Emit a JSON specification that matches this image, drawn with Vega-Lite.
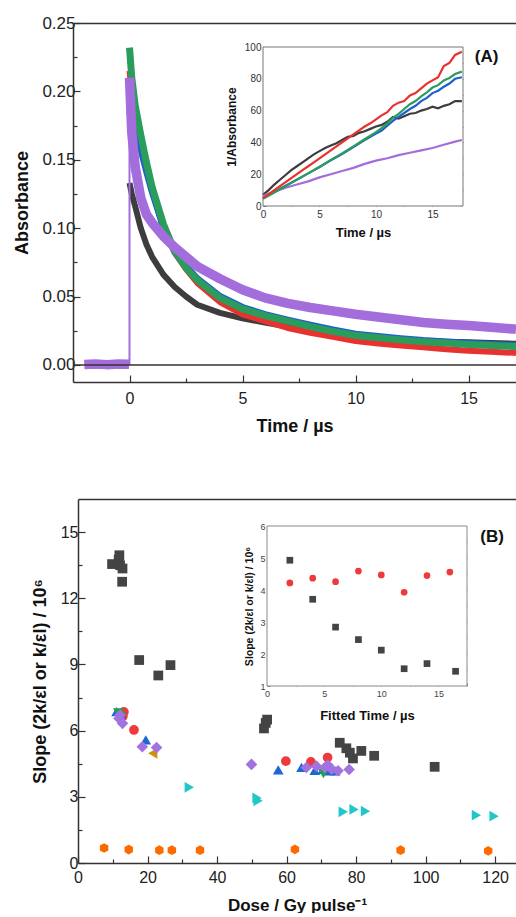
{
  "$schema": "https://vega.github.io/schema/vega-lite/v6.json",
  "padding": {"left": 13, "top": 14, "right": 0, "bottom": 0},
  "spacing": 64,
  "config": {
    "font": "Liberation Sans",
    "view": {"stroke": null},
    "axis": {"grid": false, "domainColor": "#333", "tickColor": "#333", "labelColor": "#222", "titleColor": "#111", "labelFont": "Liberation Sans", "titleFont": "Liberation Sans", "labelFlush": false, "labelOverlap": false, "titleFontWeight": "bold"}
  },
  "datasets": {
    "mainA": [
      {"series": "trace5", "phase": "pre", "t": -2.0, "a": 0.0003},
      {"series": "trace5", "phase": "pre", "t": -1.5, "a": 0.0007},
      {"series": "trace5", "phase": "pre", "t": -1.0, "a": 0.0002},
      {"series": "trace5", "phase": "pre", "t": -0.5, "a": 0.0006},
      {"series": "trace5", "phase": "pre", "t": -0.02, "a": 0.0004},
      {"series": "trace1", "phase": "post", "t": 0, "a": 0.133}, {"series": "trace1", "phase": "post", "t": 0.1, "a": 0.125}, {"series": "trace1", "phase": "post", "t": 0.25, "a": 0.116}, {"series": "trace1", "phase": "post", "t": 0.5, "a": 0.1}, {"series": "trace1", "phase": "post", "t": 0.75, "a": 0.088}, {"series": "trace1", "phase": "post", "t": 1, "a": 0.079}, {"series": "trace1", "phase": "post", "t": 1.5, "a": 0.066}, {"series": "trace1", "phase": "post", "t": 2, "a": 0.057}, {"series": "trace1", "phase": "post", "t": 2.5, "a": 0.05}, {"series": "trace1", "phase": "post", "t": 3, "a": 0.044}, {"series": "trace1", "phase": "post", "t": 4, "a": 0.038}, {"series": "trace1", "phase": "post", "t": 5, "a": 0.034}, {"series": "trace1", "phase": "post", "t": 6, "a": 0.031}, {"series": "trace1", "phase": "post", "t": 7, "a": 0.028}, {"series": "trace1", "phase": "post", "t": 8, "a": 0.025}, {"series": "trace1", "phase": "post", "t": 9, "a": 0.022}, {"series": "trace1", "phase": "post", "t": 10, "a": 0.0198}, {"series": "trace1", "phase": "post", "t": 11, "a": 0.0188}, {"series": "trace1", "phase": "post", "t": 12, "a": 0.018}, {"series": "trace1", "phase": "post", "t": 13, "a": 0.0175}, {"series": "trace1", "phase": "post", "t": 14, "a": 0.017}, {"series": "trace1", "phase": "post", "t": 15, "a": 0.0165}, {"series": "trace1", "phase": "post", "t": 16, "a": 0.016}, {"series": "trace1", "phase": "post", "t": 17, "a": 0.0155}, {"series": "trace1", "phase": "post", "t": 17.1, "a": 0.0155},
      {"series": "trace2", "phase": "post", "t": 0, "a": 0.215}, {"series": "trace2", "phase": "post", "t": 0.1, "a": 0.2}, {"series": "trace2", "phase": "post", "t": 0.25, "a": 0.185}, {"series": "trace2", "phase": "post", "t": 0.5, "a": 0.165}, {"series": "trace2", "phase": "post", "t": 0.75, "a": 0.145}, {"series": "trace2", "phase": "post", "t": 1, "a": 0.128}, {"series": "trace2", "phase": "post", "t": 1.5, "a": 0.1}, {"series": "trace2", "phase": "post", "t": 2, "a": 0.082}, {"series": "trace2", "phase": "post", "t": 2.5, "a": 0.07}, {"series": "trace2", "phase": "post", "t": 3, "a": 0.06}, {"series": "trace2", "phase": "post", "t": 4, "a": 0.046}, {"series": "trace2", "phase": "post", "t": 5, "a": 0.037}, {"series": "trace2", "phase": "post", "t": 6, "a": 0.032}, {"series": "trace2", "phase": "post", "t": 7, "a": 0.027}, {"series": "trace2", "phase": "post", "t": 8, "a": 0.0235}, {"series": "trace2", "phase": "post", "t": 9, "a": 0.0205}, {"series": "trace2", "phase": "post", "t": 10, "a": 0.0175}, {"series": "trace2", "phase": "post", "t": 11, "a": 0.0157}, {"series": "trace2", "phase": "post", "t": 12, "a": 0.0142}, {"series": "trace2", "phase": "post", "t": 13, "a": 0.0129}, {"series": "trace2", "phase": "post", "t": 14, "a": 0.0115}, {"series": "trace2", "phase": "post", "t": 15, "a": 0.0104}, {"series": "trace2", "phase": "post", "t": 16, "a": 0.0096}, {"series": "trace2", "phase": "post", "t": 17, "a": 0.0088}, {"series": "trace2", "phase": "post", "t": 17.1, "a": 0.0087},
      {"series": "trace3", "phase": "post", "t": 0, "a": 0.186}, {"series": "trace3", "phase": "post", "t": 0.1, "a": 0.18}, {"series": "trace3", "phase": "post", "t": 0.25, "a": 0.172}, {"series": "trace3", "phase": "post", "t": 0.5, "a": 0.158}, {"series": "trace3", "phase": "post", "t": 0.75, "a": 0.142}, {"series": "trace3", "phase": "post", "t": 1, "a": 0.127}, {"series": "trace3", "phase": "post", "t": 1.5, "a": 0.101}, {"series": "trace3", "phase": "post", "t": 2, "a": 0.083}, {"series": "trace3", "phase": "post", "t": 2.5, "a": 0.072}, {"series": "trace3", "phase": "post", "t": 3, "a": 0.063}, {"series": "trace3", "phase": "post", "t": 4, "a": 0.05}, {"series": "trace3", "phase": "post", "t": 5, "a": 0.042}, {"series": "trace3", "phase": "post", "t": 6, "a": 0.0368}, {"series": "trace3", "phase": "post", "t": 7, "a": 0.0328}, {"series": "trace3", "phase": "post", "t": 8, "a": 0.029}, {"series": "trace3", "phase": "post", "t": 9, "a": 0.0255}, {"series": "trace3", "phase": "post", "t": 10, "a": 0.0225}, {"series": "trace3", "phase": "post", "t": 11, "a": 0.0207}, {"series": "trace3", "phase": "post", "t": 12, "a": 0.0192}, {"series": "trace3", "phase": "post", "t": 13, "a": 0.0178}, {"series": "trace3", "phase": "post", "t": 14, "a": 0.0168}, {"series": "trace3", "phase": "post", "t": 15, "a": 0.0158}, {"series": "trace3", "phase": "post", "t": 16, "a": 0.015}, {"series": "trace3", "phase": "post", "t": 17, "a": 0.0143}, {"series": "trace3", "phase": "post", "t": 17.1, "a": 0.0142},
      {"series": "trace4", "phase": "post", "t": 0, "a": 0.232}, {"series": "trace4", "phase": "post", "t": 0.1, "a": 0.21}, {"series": "trace4", "phase": "post", "t": 0.25, "a": 0.19}, {"series": "trace4", "phase": "post", "t": 0.5, "a": 0.168}, {"series": "trace4", "phase": "post", "t": 0.75, "a": 0.148}, {"series": "trace4", "phase": "post", "t": 1, "a": 0.13}, {"series": "trace4", "phase": "post", "t": 1.5, "a": 0.103}, {"series": "trace4", "phase": "post", "t": 2, "a": 0.083}, {"series": "trace4", "phase": "post", "t": 2.5, "a": 0.071}, {"series": "trace4", "phase": "post", "t": 3, "a": 0.062}, {"series": "trace4", "phase": "post", "t": 4, "a": 0.049}, {"series": "trace4", "phase": "post", "t": 5, "a": 0.041}, {"series": "trace4", "phase": "post", "t": 6, "a": 0.036}, {"series": "trace4", "phase": "post", "t": 7, "a": 0.032}, {"series": "trace4", "phase": "post", "t": 8, "a": 0.028}, {"series": "trace4", "phase": "post", "t": 9, "a": 0.0245}, {"series": "trace4", "phase": "post", "t": 10, "a": 0.0215}, {"series": "trace4", "phase": "post", "t": 11, "a": 0.0198}, {"series": "trace4", "phase": "post", "t": 12, "a": 0.0183}, {"series": "trace4", "phase": "post", "t": 13, "a": 0.017}, {"series": "trace4", "phase": "post", "t": 14, "a": 0.016}, {"series": "trace4", "phase": "post", "t": 15, "a": 0.015}, {"series": "trace4", "phase": "post", "t": 16, "a": 0.0142}, {"series": "trace4", "phase": "post", "t": 17, "a": 0.0135}, {"series": "trace4", "phase": "post", "t": 17.1, "a": 0.0134},
      {"series": "trace5", "phase": "post", "t": 0, "a": 0.21}, {"series": "trace5", "phase": "post", "t": 0.1, "a": 0.17}, {"series": "trace5", "phase": "post", "t": 0.25, "a": 0.145}, {"series": "trace5", "phase": "post", "t": 0.5, "a": 0.122}, {"series": "trace5", "phase": "post", "t": 0.75, "a": 0.11}, {"series": "trace5", "phase": "post", "t": 1, "a": 0.104}, {"series": "trace5", "phase": "post", "t": 1.5, "a": 0.094}, {"series": "trace5", "phase": "post", "t": 2, "a": 0.086}, {"series": "trace5", "phase": "post", "t": 2.5, "a": 0.079}, {"series": "trace5", "phase": "post", "t": 3, "a": 0.072}, {"series": "trace5", "phase": "post", "t": 4, "a": 0.063}, {"series": "trace5", "phase": "post", "t": 5, "a": 0.055}, {"series": "trace5", "phase": "post", "t": 6, "a": 0.049}, {"series": "trace5", "phase": "post", "t": 7, "a": 0.045}, {"series": "trace5", "phase": "post", "t": 8, "a": 0.042}, {"series": "trace5", "phase": "post", "t": 9, "a": 0.0395}, {"series": "trace5", "phase": "post", "t": 10, "a": 0.037}, {"series": "trace5", "phase": "post", "t": 11, "a": 0.035}, {"series": "trace5", "phase": "post", "t": 12, "a": 0.033}, {"series": "trace5", "phase": "post", "t": 13, "a": 0.031}, {"series": "trace5", "phase": "post", "t": 14, "a": 0.0298}, {"series": "trace5", "phase": "post", "t": 15, "a": 0.0288}, {"series": "trace5", "phase": "post", "t": 16, "a": 0.0275}, {"series": "trace5", "phase": "post", "t": 17, "a": 0.0262}, {"series": "trace5", "phase": "post", "t": 17.1, "a": 0.026}
    ],
    "insetA": [
      {"series": "trace1", "t": 0, "inv": 7}, {"series": "trace1", "t": 0.5, "inv": 10}, {"series": "trace1", "t": 1, "inv": 13.5}, {"series": "trace1", "t": 1.5, "inv": 16.5}, {"series": "trace1", "t": 2, "inv": 19.5}, {"series": "trace1", "t": 2.5, "inv": 22.5}, {"series": "trace1", "t": 3, "inv": 25}, {"series": "trace1", "t": 3.5, "inv": 27.5}, {"series": "trace1", "t": 4, "inv": 30}, {"series": "trace1", "t": 4.5, "inv": 32.5}, {"series": "trace1", "t": 5, "inv": 34.5}, {"series": "trace1", "t": 5.5, "inv": 36.5}, {"series": "trace1", "t": 6, "inv": 38}, {"series": "trace1", "t": 6.5, "inv": 39.5}, {"series": "trace1", "t": 7, "inv": 41.5}, {"series": "trace1", "t": 7.5, "inv": 43.5}, {"series": "trace1", "t": 8, "inv": 44}, {"series": "trace1", "t": 8.5, "inv": 46}, {"series": "trace1", "t": 9, "inv": 47}, {"series": "trace1", "t": 9.5, "inv": 48.5}, {"series": "trace1", "t": 10, "inv": 50}, {"series": "trace1", "t": 10.5, "inv": 51}, {"series": "trace1", "t": 11, "inv": 53}, {"series": "trace1", "t": 11.5, "inv": 56}, {"series": "trace1", "t": 12, "inv": 55}, {"series": "trace1", "t": 12.5, "inv": 56.5}, {"series": "trace1", "t": 13, "inv": 58}, {"series": "trace1", "t": 13.5, "inv": 58.5}, {"series": "trace1", "t": 14, "inv": 60}, {"series": "trace1", "t": 14.5, "inv": 61}, {"series": "trace1", "t": 15, "inv": 62.5}, {"series": "trace1", "t": 15.5, "inv": 61.5}, {"series": "trace1", "t": 16, "inv": 63}, {"series": "trace1", "t": 16.5, "inv": 64}, {"series": "trace1", "t": 17, "inv": 66}, {"series": "trace1", "t": 17.6, "inv": 66},
      {"series": "trace5", "t": 0, "inv": 6.5}, {"series": "trace5", "t": 1, "inv": 9}, {"series": "trace5", "t": 2, "inv": 11.5}, {"series": "trace5", "t": 3, "inv": 13.5}, {"series": "trace5", "t": 4, "inv": 15.5}, {"series": "trace5", "t": 5, "inv": 18}, {"series": "trace5", "t": 6, "inv": 20}, {"series": "trace5", "t": 7, "inv": 22}, {"series": "trace5", "t": 8, "inv": 24}, {"series": "trace5", "t": 9, "inv": 26.5}, {"series": "trace5", "t": 10, "inv": 28.5}, {"series": "trace5", "t": 11, "inv": 30}, {"series": "trace5", "t": 12, "inv": 32}, {"series": "trace5", "t": 13, "inv": 33.5}, {"series": "trace5", "t": 14, "inv": 35}, {"series": "trace5", "t": 15, "inv": 36.5}, {"series": "trace5", "t": 16, "inv": 38.5}, {"series": "trace5", "t": 17, "inv": 40.5}, {"series": "trace5", "t": 17.6, "inv": 41.5},
      {"series": "trace3", "t": 0, "inv": 4.8}, {"series": "trace3", "t": 1, "inv": 8.8}, {"series": "trace3", "t": 2, "inv": 12.7}, {"series": "trace3", "t": 3, "inv": 16.6}, {"series": "trace3", "t": 4, "inv": 20.5}, {"series": "trace3", "t": 5, "inv": 24.5}, {"series": "trace3", "t": 6, "inv": 28.7}, {"series": "trace3", "t": 7, "inv": 32.7}, {"series": "trace3", "t": 8, "inv": 37}, {"series": "trace3", "t": 9, "inv": 41.5}, {"series": "trace3", "t": 10, "inv": 45.5}, {"series": "trace3", "t": 10.5, "inv": 47.5}, {"series": "trace3", "t": 11, "inv": 50.5}, {"series": "trace3", "t": 11.5, "inv": 53.5}, {"series": "trace3", "t": 12, "inv": 56}, {"series": "trace3", "t": 12.5, "inv": 58.5}, {"series": "trace3", "t": 13, "inv": 61}, {"series": "trace3", "t": 13.5, "inv": 63}, {"series": "trace3", "t": 14, "inv": 66}, {"series": "trace3", "t": 14.5, "inv": 68}, {"series": "trace3", "t": 15, "inv": 71}, {"series": "trace3", "t": 15.5, "inv": 72.5}, {"series": "trace3", "t": 16, "inv": 75}, {"series": "trace3", "t": 16.5, "inv": 77}, {"series": "trace3", "t": 17, "inv": 80}, {"series": "trace3", "t": 17.6, "inv": 81},
      {"series": "trace4", "t": 0, "inv": 4.5}, {"series": "trace4", "t": 1, "inv": 8.5}, {"series": "trace4", "t": 2, "inv": 12.5}, {"series": "trace4", "t": 3, "inv": 16.5}, {"series": "trace4", "t": 4, "inv": 20.5}, {"series": "trace4", "t": 5, "inv": 24.5}, {"series": "trace4", "t": 6, "inv": 29}, {"series": "trace4", "t": 7, "inv": 33}, {"series": "trace4", "t": 8, "inv": 37.5}, {"series": "trace4", "t": 9, "inv": 42}, {"series": "trace4", "t": 10, "inv": 46.5}, {"series": "trace4", "t": 10.5, "inv": 49}, {"series": "trace4", "t": 11, "inv": 52}, {"series": "trace4", "t": 11.5, "inv": 55.5}, {"series": "trace4", "t": 12, "inv": 58}, {"series": "trace4", "t": 12.5, "inv": 61}, {"series": "trace4", "t": 13, "inv": 64}, {"series": "trace4", "t": 13.5, "inv": 66}, {"series": "trace4", "t": 14, "inv": 69}, {"series": "trace4", "t": 14.5, "inv": 71.5}, {"series": "trace4", "t": 15, "inv": 74.5}, {"series": "trace4", "t": 15.5, "inv": 76}, {"series": "trace4", "t": 16, "inv": 79}, {"series": "trace4", "t": 16.5, "inv": 80.5}, {"series": "trace4", "t": 17, "inv": 83}, {"series": "trace4", "t": 17.6, "inv": 84.5},
      {"series": "trace2", "t": 0, "inv": 5}, {"series": "trace2", "t": 0.5, "inv": 7.5}, {"series": "trace2", "t": 1, "inv": 10}, {"series": "trace2", "t": 1.5, "inv": 12.5}, {"series": "trace2", "t": 2, "inv": 15}, {"series": "trace2", "t": 2.5, "inv": 17.5}, {"series": "trace2", "t": 3, "inv": 20}, {"series": "trace2", "t": 3.5, "inv": 22.5}, {"series": "trace2", "t": 4, "inv": 25}, {"series": "trace2", "t": 4.5, "inv": 27.5}, {"series": "trace2", "t": 5, "inv": 30}, {"series": "trace2", "t": 5.5, "inv": 32.5}, {"series": "trace2", "t": 6, "inv": 35}, {"series": "trace2", "t": 6.5, "inv": 37.5}, {"series": "trace2", "t": 7, "inv": 40}, {"series": "trace2", "t": 7.5, "inv": 42.5}, {"series": "trace2", "t": 8, "inv": 45}, {"series": "trace2", "t": 8.5, "inv": 47.5}, {"series": "trace2", "t": 9, "inv": 50}, {"series": "trace2", "t": 9.5, "inv": 52}, {"series": "trace2", "t": 10, "inv": 54.5}, {"series": "trace2", "t": 10.5, "inv": 57}, {"series": "trace2", "t": 11, "inv": 59}, {"series": "trace2", "t": 11.5, "inv": 63}, {"series": "trace2", "t": 12, "inv": 65}, {"series": "trace2", "t": 12.5, "inv": 66}, {"series": "trace2", "t": 13, "inv": 69.5}, {"series": "trace2", "t": 13.5, "inv": 71}, {"series": "trace2", "t": 14, "inv": 74}, {"series": "trace2", "t": 14.5, "inv": 77}, {"series": "trace2", "t": 15, "inv": 79}, {"series": "trace2", "t": 15.5, "inv": 81}, {"series": "trace2", "t": 16, "inv": 88}, {"series": "trace2", "t": 16.5, "inv": 90}, {"series": "trace2", "t": 17, "inv": 95}, {"series": "trace2", "t": 17.6, "inv": 97}
    ],
    "mainB": [
      {"set": "S1", "dose": 9.8, "slope": 13.55}, {"set": "S1", "dose": 11.7, "slope": 13.75}, {"set": "S1", "dose": 11.9, "slope": 13.95}, {"set": "S1", "dose": 12.1, "slope": 13.5}, {"set": "S1", "dose": 12.8, "slope": 13.35}, {"set": "S1", "dose": 12.7, "slope": 12.75}, {"set": "S1", "dose": 17.6, "slope": 9.2}, {"set": "S1", "dose": 23.1, "slope": 8.5}, {"set": "S1", "dose": 26.6, "slope": 8.97}, {"set": "S1", "dose": 53.5, "slope": 6.1}, {"set": "S1", "dose": 54.0, "slope": 6.35}, {"set": "S1", "dose": 54.4, "slope": 6.5}, {"set": "S1", "dose": 75.3, "slope": 5.45}, {"set": "S1", "dose": 77.2, "slope": 5.2}, {"set": "S1", "dose": 78.2, "slope": 5.0}, {"set": "S1", "dose": 79.1, "slope": 4.74}, {"set": "S1", "dose": 81.5, "slope": 5.08}, {"set": "S1", "dose": 85.2, "slope": 4.86}, {"set": "S1", "dose": 102.6, "slope": 4.36},
      {"set": "S2", "dose": 13.2, "slope": 6.85}, {"set": "S2", "dose": 12.9, "slope": 6.65}, {"set": "S2", "dose": 16.1, "slope": 6.03}, {"set": "S2", "dose": 59.8, "slope": 4.62}, {"set": "S2", "dose": 67.0, "slope": 4.58}, {"set": "S2", "dose": 71.8, "slope": 4.78},
      {"set": "S3", "dose": 11.1, "slope": 6.86}, {"set": "S3", "dose": 12.3, "slope": 6.75}, {"set": "S3", "dose": 19.5, "slope": 5.58}, {"set": "S3", "dose": 57.6, "slope": 4.22}, {"set": "S3", "dose": 64.3, "slope": 4.33}, {"set": "S3", "dose": 68.1, "slope": 4.2}, {"set": "S3", "dose": 70.5, "slope": 4.25}, {"set": "S3", "dose": 72.4, "slope": 4.18}, {"set": "S3", "dose": 74.0, "slope": 4.18},
      {"set": "S4", "dose": 11.6, "slope": 6.8}, {"set": "S4", "dose": 12.5, "slope": 6.65}, {"set": "S4", "dose": 70.6, "slope": 4.05},
      {"set": "S5", "dose": 21.5, "slope": 4.97},
      {"set": "S7", "dose": 32.0, "slope": 3.43}, {"set": "S7", "dose": 51.5, "slope": 2.95}, {"set": "S7", "dose": 51.8, "slope": 2.82}, {"set": "S7", "dose": 76.3, "slope": 2.32}, {"set": "S7", "dose": 79.4, "slope": 2.43}, {"set": "S7", "dose": 82.7, "slope": 2.35}, {"set": "S7", "dose": 114.6, "slope": 2.17}, {"set": "S7", "dose": 119.7, "slope": 2.12},
      {"set": "S8", "dose": 7.5, "slope": 0.68}, {"set": "S8", "dose": 14.6, "slope": 0.61}, {"set": "S8", "dose": 23.4, "slope": 0.58}, {"set": "S8", "dose": 27.0, "slope": 0.58}, {"set": "S8", "dose": 35.1, "slope": 0.58}, {"set": "S8", "dose": 62.4, "slope": 0.62}, {"set": "S8", "dose": 92.8, "slope": 0.58}, {"set": "S8", "dose": 118.0, "slope": 0.55},
      {"set": "S6", "dose": 12.1, "slope": 6.71}, {"set": "S6", "dose": 11.8, "slope": 6.55}, {"set": "S6", "dose": 12.8, "slope": 6.33}, {"set": "S6", "dose": 18.5, "slope": 5.27}, {"set": "S6", "dose": 22.6, "slope": 5.23}, {"set": "S6", "dose": 49.9, "slope": 4.47}, {"set": "S6", "dose": 65.7, "slope": 4.33}, {"set": "S6", "dose": 68.6, "slope": 4.39}, {"set": "S6", "dose": 71.0, "slope": 4.33}, {"set": "S6", "dose": 71.9, "slope": 4.44}, {"set": "S6", "dose": 73.0, "slope": 4.25}, {"set": "S6", "dose": 74.8, "slope": 4.18}, {"set": "S6", "dose": 78.0, "slope": 4.24}
    ],
    "insetB": [
      {"fit": "2k/εl", "time": 2, "slope": 4.93}, {"fit": "2k/εl", "time": 4, "slope": 3.71}, {"fit": "2k/εl", "time": 6, "slope": 2.84}, {"fit": "2k/εl", "time": 8, "slope": 2.45}, {"fit": "2k/εl", "time": 10, "slope": 2.12}, {"fit": "2k/εl", "time": 12, "slope": 1.54}, {"fit": "2k/εl", "time": 14, "slope": 1.7}, {"fit": "2k/εl", "time": 16.5, "slope": 1.46},
      {"fit": "k/εl", "time": 2, "slope": 4.22}, {"fit": "k/εl", "time": 4, "slope": 4.37}, {"fit": "k/εl", "time": 6, "slope": 4.26}, {"fit": "k/εl", "time": 8, "slope": 4.59}, {"fit": "k/εl", "time": 10, "slope": 4.47}, {"fit": "k/εl", "time": 12, "slope": 3.93}, {"fit": "k/εl", "time": 14, "slope": 4.45}, {"fit": "k/εl", "time": 16, "slope": 4.56}
    ]
  },
  "vconcat": [
    {
      "width": 443,
      "height": 359,
      "layer": [
        {
          "layer": [
            {"data": {"name": "mainA"}, "transform": [{"filter": "datum.series == 'trace1'"}], "mark": {"type": "line", "color": "#3d3d3d", "strokeWidth": 6, "strokeJoin": "round"},
             "encoding": {"x": {"field": "t", "type": "quantitative", "scale": {"domain": [-2.5, 17.1], "nice": false, "zero": false}, "axis": null}, "y": {"field": "a", "type": "quantitative", "scale": {"domain": [-0.0125, 0.25], "nice": false, "zero": false}, "axis": null}}},
            {"data": {"name": "mainA"}, "transform": [{"filter": "datum.series == 'trace2'"}], "mark": {"type": "line", "color": "#e8322f", "strokeWidth": 6, "strokeJoin": "round"},
             "encoding": {"x": {"field": "t", "type": "quantitative", "scale": {"domain": [-2.5, 17.1], "nice": false, "zero": false}, "axis": null}, "y": {"field": "a", "type": "quantitative", "scale": {"domain": [-0.0125, 0.25], "nice": false, "zero": false}, "axis": null}}},
            {"data": {"name": "mainA"}, "transform": [{"filter": "datum.series == 'trace3'"}], "mark": {"type": "line", "color": "#1f5fcf", "strokeWidth": 7, "strokeJoin": "round"},
             "encoding": {"x": {"field": "t", "type": "quantitative", "scale": {"domain": [-2.5, 17.1], "nice": false, "zero": false}, "axis": null}, "y": {"field": "a", "type": "quantitative", "scale": {"domain": [-0.0125, 0.25], "nice": false, "zero": false}, "axis": null}}},
            {"data": {"name": "mainA"}, "transform": [{"filter": "datum.series == 'trace4'"}], "mark": {"type": "line", "color": "#2a9d5c", "strokeWidth": 7, "strokeJoin": "round"},
             "encoding": {"x": {"field": "t", "type": "quantitative", "scale": {"domain": [-2.5, 17.1], "nice": false, "zero": false}, "axis": null}, "y": {"field": "a", "type": "quantitative", "scale": {"domain": [-0.0125, 0.25], "nice": false, "zero": false}, "axis": null}}},
            {"data": {"name": "mainA"}, "transform": [{"filter": "datum.series == 'trace5'"}], "mark": {"type": "line", "color": "#a36ddc", "strokeWidth": 9.5, "strokeJoin": "round"},
             "encoding": {"x": {"field": "t", "type": "quantitative", "scale": {"domain": [-2.5, 17.1], "nice": false, "zero": false}, "axis": null}, "y": {"field": "a", "type": "quantitative", "scale": {"domain": [-0.0125, 0.25], "nice": false, "zero": false}, "axis": null}, "detail": {"field": "phase"}}},
            {"data": {"name": "mainA"}, "transform": [{"filter": "datum.series == 'trace5' && datum.t == 0"}], "mark": {"type": "rule", "color": "#a36ddc", "strokeWidth": 2},
             "encoding": {"x": {"field": "t", "type": "quantitative", "scale": {"domain": [-2.5, 17.1], "nice": false, "zero": false}, "axis": null}, "y": {"field": "a", "type": "quantitative", "scale": {"domain": [-0.0125, 0.25], "nice": false, "zero": false}, "axis": null}, "y2": {"datum": 0}}},
            {"data": {"values": [{}]}, "mark": {"type": "rule", "color": "#333", "strokeWidth": 1.5},
             "encoding": {"y": {"datum": 0, "type": "quantitative", "scale": {"domain": [-0.0125, 0.25], "nice": false, "zero": false}, "axis": null}}},
            {"data": {"values": [{}]}, "mark": {"type": "point", "opacity": 0},
             "encoding": {
               "x": {"datum": 0, "type": "quantitative", "scale": {"domain": [-2.5, 17.1], "nice": false, "zero": false}, "axis": {"orient": "bottom", "values": [0, 5, 10, 15], "tickSize": -7, "tickWidth": 1.2, "domainWidth": 1.5, "labelFontSize": 16, "labelPadding": 15, "title": "Time / µs", "titleFontSize": 18, "titlePadding": 11}},
               "y": {"datum": 0, "type": "quantitative", "scale": {"domain": [-0.0125, 0.25], "nice": false, "zero": false}, "axis": {"orient": "left", "values": [0, 0.05, 0.1, 0.15, 0.2, 0.25], "format": ".2f", "tickSize": -7, "tickWidth": 1.2, "domainWidth": 1.5, "labelFontSize": 17, "labelPadding": 5, "title": "Absorbance", "titleFontSize": 18, "titlePadding": 10}}}},
            {"data": {"values": [{}]}, "mark": {"type": "point", "opacity": 0},
             "encoding": {
               "x": {"datum": 0, "type": "quantitative", "scale": {"domain": [-2.5, 17.1], "nice": false, "zero": false}, "axis": {"orient": "top", "ticks": false, "labels": false, "domainWidth": 1.5, "title": null}},
               "y": {"datum": 0, "type": "quantitative", "scale": {"domain": [-0.0125, 0.25], "nice": false, "zero": false}, "axis": {"orient": "left", "values": [0.025, 0.075, 0.125, 0.175, 0.225], "tickSize": -4, "tickWidth": 1.2, "labels": false, "domain": false, "title": null}}}},
            {"data": {"values": [{}]}, "mark": {"type": "point", "opacity": 0},
             "encoding": {
               "x": {"datum": 0, "type": "quantitative", "scale": {"domain": [-2.5, 17.1], "nice": false, "zero": false}, "axis": {"orient": "bottom", "values": [2.5, 7.5, 12.5], "tickSize": -4, "tickWidth": 1.2, "labels": false, "domain": false, "title": null}},
               "y": {"datum": 0, "type": "quantitative", "scale": {"domain": [-0.0125, 0.25], "nice": false, "zero": false}, "axis": null}}},
            {"data": {"values": [{"label": "(A)"}]}, "mark": {"type": "text", "fontSize": 17, "fontWeight": "bold", "color": "#111"},
             "encoding": {"text": {"field": "label"}, "x": {"datum": 15.8, "type": "quantitative", "scale": {"domain": [-2.5, 17.1], "nice": false, "zero": false}, "axis": null}, "y": {"datum": 0.225, "type": "quantitative", "scale": {"domain": [-0.0125, 0.25], "nice": false, "zero": false}, "axis": null}}}
          ],
          "resolve": {"axis": {"x": "independent", "y": "independent"}}
        },
        {
          "layer": [
            {"data": {"values": [{}]}, "mark": {"type": "rect", "fill": "white", "stroke": "#777", "strokeWidth": 1},
             "encoding": {"x": {"datum": 0, "type": "quantitative", "scale": {"domain": [0, 17.7], "range": [190, 390], "nice": false, "zero": false}, "axis": null}, "x2": {"datum": 17.7}, "y": {"datum": 0, "type": "quantitative", "scale": {"domain": [0, 100], "range": [183, 24], "nice": false, "zero": false}, "axis": null}, "y2": {"datum": 100}}},
            {"data": {"name": "insetA"}, "mark": {"type": "line", "strokeWidth": 2.2},
             "encoding": {"x": {"field": "t", "type": "quantitative", "scale": {"domain": [0, 17.7], "range": [190, 390], "nice": false, "zero": false}, "axis": null}, "y": {"field": "inv", "type": "quantitative", "scale": {"domain": [0, 100], "range": [183, 24], "nice": false, "zero": false}, "axis": null},
               "color": {"field": "series", "type": "nominal", "scale": {"domain": ["trace1", "trace2", "trace3", "trace4", "trace5"], "range": ["#3d3d3d", "#e8322f", "#1f5fcf", "#2a9d5c", "#a36ddc"]}, "legend": null}}},
            {"data": {"values": [{}]}, "mark": {"type": "point", "opacity": 0},
             "encoding": {
               "x": {"datum": 0, "type": "quantitative", "scale": {"domain": [0, 17.7], "range": [190, 390], "nice": false, "zero": false}, "axis": {"orient": "bottom", "offset": -176, "values": [0, 2.5, 5, 7.5, 10, 12.5, 15, 17.5], "format": "~g", "labelExpr": "datum.value % 5 == 0 ? datum.label : ''", "tickSize": -3, "tickColor": "#777", "domain": false, "labelFontSize": 10, "labelPadding": 6, "labelColor": "#333", "title": "Time / µs", "titleFontSize": 13, "titlePadding": 7}},
               "y": {"datum": 0, "type": "quantitative", "scale": {"domain": [0, 100], "range": [183, 24], "nice": false, "zero": false}, "axis": {"orient": "left", "offset": -190, "values": [0, 10, 20, 30, 40, 50, 60, 70, 80, 90, 100], "labelExpr": "datum.value % 20 == 0 ? datum.label : ''", "tickSize": -3, "tickColor": "#777", "domain": false, "labelFontSize": 10, "labelPadding": 5, "labelColor": "#333", "title": "1/Absorbance", "titleFontSize": 12, "titlePadding": 6}}}},
            {"data": {"values": [{}]}, "mark": {"type": "point", "opacity": 0},
             "encoding": {
               "x": {"datum": 0, "type": "quantitative", "scale": {"domain": [0, 17.7], "range": [190, 390], "nice": false, "zero": false}, "axis": {"orient": "top", "offset": -24, "values": [2.5, 5, 7.5, 10, 12.5, 15], "tickSize": -3, "tickColor": "#777", "domain": false, "labels": false, "title": null}},
               "y": {"datum": 0, "type": "quantitative", "scale": {"domain": [0, 100], "range": [183, 24], "nice": false, "zero": false}, "axis": {"orient": "right", "offset": -53, "values": [10, 20, 30, 40, 50, 60, 70, 80, 90], "tickSize": -3, "tickColor": "#777", "domain": false, "labels": false, "title": null}}}}
          ],
          "resolve": {"axis": {"x": "independent", "y": "independent"}}
        }
      ],
      "resolve": {"scale": {"x": "independent", "y": "independent"}, "axis": {"x": "independent", "y": "independent"}}
    },
    {
      "width": 443,
      "height": 364,
      "layer": [
        {
          "layer": [
            {"data": {"name": "mainB"}, "transform": [{"filter": "indexof(['S1','S2','S8'], datum.set) >= 0"}], "mark": {"type": "point", "filled": true, "opacity": 1, "strokeWidth": 0, "size": 95},
             "encoding": {
               "x": {"field": "dose", "type": "quantitative", "scale": {"domain": [0, 126], "range": [5, 443], "nice": false, "zero": false}, "axis": null},
               "y": {"field": "slope", "type": "quantitative", "scale": {"domain": [0, 16.5], "nice": false, "zero": false}, "axis": null},
               "color": {"field": "set", "type": "nominal", "scale": {"domain": ["S1", "S2", "S3", "S4", "S5", "S6", "S7", "S8"], "range": ["#444444", "#ee3a3a", "#1c66d8", "#22a04a", "#c8960c", "#a272e0", "#20c6c9", "#ff6a00"]}, "legend": null},
               "shape": {"field": "set", "type": "nominal", "scale": {"domain": ["S1", "S2", "S3", "S4", "S5", "S6", "S7", "S8"], "range": ["square", "circle", "triangle-up", "triangle-down", "triangle-left", "diamond", "triangle-right", "M0,-1L0.87,-0.5L0.87,0.5L0,1L-0.87,0.5L-0.87,-0.5Z"]}, "legend": null}}},
            {"data": {"name": "mainB"}, "transform": [{"filter": "indexof(['S3','S4','S5','S7'], datum.set) >= 0"}], "mark": {"type": "point", "filled": true, "opacity": 1, "strokeWidth": 0, "size": 115},
             "encoding": {
               "x": {"field": "dose", "type": "quantitative", "scale": {"domain": [0, 126], "range": [5, 443], "nice": false, "zero": false}, "axis": null},
               "y": {"field": "slope", "type": "quantitative", "scale": {"domain": [0, 16.5], "nice": false, "zero": false}, "axis": null},
               "color": {"field": "set", "type": "nominal", "scale": {"domain": ["S1", "S2", "S3", "S4", "S5", "S6", "S7", "S8"], "range": ["#444444", "#ee3a3a", "#1c66d8", "#22a04a", "#c8960c", "#a272e0", "#20c6c9", "#ff6a00"]}, "legend": null},
               "shape": {"field": "set", "type": "nominal", "scale": {"domain": ["S1", "S2", "S3", "S4", "S5", "S6", "S7", "S8"], "range": ["square", "circle", "triangle-up", "triangle-down", "triangle-left", "diamond", "triangle-right", "M0,-1L0.87,-0.5L0.87,0.5L0,1L-0.87,0.5L-0.87,-0.5Z"]}, "legend": null}}},
            {"data": {"name": "mainB"}, "transform": [{"filter": "datum.set == 'S6'"}], "mark": {"type": "point", "filled": true, "opacity": 1, "strokeWidth": 0, "size": 135},
             "encoding": {
               "x": {"field": "dose", "type": "quantitative", "scale": {"domain": [0, 126], "range": [5, 443], "nice": false, "zero": false}, "axis": null},
               "y": {"field": "slope", "type": "quantitative", "scale": {"domain": [0, 16.5], "nice": false, "zero": false}, "axis": null},
               "color": {"field": "set", "type": "nominal", "scale": {"domain": ["S1", "S2", "S3", "S4", "S5", "S6", "S7", "S8"], "range": ["#444444", "#ee3a3a", "#1c66d8", "#22a04a", "#c8960c", "#a272e0", "#20c6c9", "#ff6a00"]}, "legend": null},
               "shape": {"field": "set", "type": "nominal", "scale": {"domain": ["S1", "S2", "S3", "S4", "S5", "S6", "S7", "S8"], "range": ["square", "circle", "triangle-up", "triangle-down", "triangle-left", "diamond", "triangle-right", "M0,-1L0.87,-0.5L0.87,0.5L0,1L-0.87,0.5L-0.87,-0.5Z"]}, "legend": null}}},
            {"data": {"values": [{}]}, "mark": {"type": "point", "opacity": 0},
             "encoding": {
               "x": {"datum": 0, "type": "quantitative", "scale": {"domain": [0, 126], "range": [5, 443], "nice": false, "zero": false}, "axis": {"orient": "bottom", "values": [0, 20, 40, 60, 80, 100, 120], "tickSize": -7, "tickWidth": 1.2, "domainWidth": 1.5, "labelFontSize": 16, "labelPadding": 13, "title": "Dose / Gy pulse⁻¹", "titleFontSize": 17, "titlePadding": 12}},
               "y": {"datum": 0, "type": "quantitative", "scale": {"domain": [0, 16.5], "nice": false, "zero": false}, "axis": {"orient": "left", "offset": -5, "values": [0, 3, 6, 9, 12, 15], "tickSize": -7, "tickWidth": 1.2, "domainWidth": 1.5, "labelFontSize": 16, "labelPadding": 7, "title": "Slope (2k/εl or k/εl) / 10⁶", "titleFontSize": 18, "titlePadding": 11}}}},
            {"data": {"values": [{}]}, "mark": {"type": "point", "opacity": 0},
             "encoding": {
               "x": {"datum": 0, "type": "quantitative", "scale": {"domain": [0, 126], "range": [5, 443], "nice": false, "zero": false}, "axis": {"orient": "top", "ticks": false, "labels": false, "domainWidth": 1.5, "title": null}},
               "y": {"datum": 0, "type": "quantitative", "scale": {"domain": [0, 16.5], "nice": false, "zero": false}, "axis": {"orient": "left", "offset": -5, "values": [1.5, 4.5, 7.5, 10.5, 13.5], "tickSize": -4, "tickWidth": 1.2, "labels": false, "domain": false, "title": null}}}},
            {"data": {"values": [{}]}, "mark": {"type": "point", "opacity": 0},
             "encoding": {
               "x": {"datum": 0, "type": "quantitative", "scale": {"domain": [0, 126], "range": [5, 443], "nice": false, "zero": false}, "axis": {"orient": "bottom", "values": [10, 30, 50, 70, 90, 110], "tickSize": -4, "tickWidth": 1.2, "labels": false, "domain": false, "title": null}},
               "y": {"datum": 0, "type": "quantitative", "scale": {"domain": [0, 16.5], "nice": false, "zero": false}, "axis": null}}},
            {"data": {"values": [{"label": "(B)"}]}, "mark": {"type": "text", "fontSize": 17, "fontWeight": "bold", "color": "#111"},
             "encoding": {"text": {"field": "label"}, "x": {"datum": 119.1, "type": "quantitative", "scale": {"domain": [0, 126], "range": [5, 443], "nice": false, "zero": false}, "axis": null}, "y": {"datum": 14.76, "type": "quantitative", "scale": {"domain": [0, 16.5], "nice": false, "zero": false}, "axis": null}}}
          ],
          "resolve": {"axis": {"x": "independent", "y": "independent"}}
        },
        {
          "layer": [
            {"data": {"values": [{}]}, "mark": {"type": "rect", "fill": "white", "stroke": "#888", "strokeWidth": 1},
             "encoding": {"x": {"datum": 0, "type": "quantitative", "scale": {"domain": [0, 17.5], "range": [194, 394], "nice": false, "zero": false}, "axis": null}, "x2": {"datum": 17.5}, "y": {"datum": 1, "type": "quantitative", "scale": {"domain": [1, 6], "range": [187, 27], "nice": false, "zero": false}, "axis": null}, "y2": {"datum": 6}}},
            {"data": {"name": "insetB"}, "mark": {"type": "point", "filled": true, "opacity": 1, "strokeWidth": 0},
             "encoding": {
               "x": {"field": "time", "type": "quantitative", "scale": {"domain": [0, 17.5], "range": [194, 394], "nice": false, "zero": false}, "axis": null},
               "y": {"field": "slope", "type": "quantitative", "scale": {"domain": [1, 6], "range": [187, 27], "nice": false, "zero": false}, "axis": null},
               "color": {"field": "fit", "type": "nominal", "scale": {"domain": ["2k/εl", "k/εl"], "range": ["#444444", "#ee3a3a"]}, "legend": null},
               "shape": {"field": "fit", "type": "nominal", "scale": {"domain": ["2k/εl", "k/εl"], "range": ["square", "circle"]}, "legend": null},
               "size": {"value": 45}}},
            {"data": {"values": [{}]}, "mark": {"type": "point", "opacity": 0},
             "encoding": {
               "x": {"datum": 0, "type": "quantitative", "scale": {"domain": [0, 17.5], "range": [194, 394], "nice": false, "zero": false}, "axis": {"orient": "bottom", "offset": -177, "values": [0, 2.5, 5, 7.5, 10, 12.5, 15, 17.5], "format": "~g", "labelExpr": "datum.value % 5 == 0 ? datum.label : ''", "tickSize": -3, "tickColor": "#888", "domain": false, "labelFontSize": 9, "labelPadding": 6, "labelColor": "#444", "title": "Fitted Time / µs", "titleFontSize": 13, "titlePadding": 11}},
               "y": {"datum": 1, "type": "quantitative", "scale": {"domain": [1, 6], "range": [187, 27], "nice": false, "zero": false}, "axis": {"orient": "left", "offset": -194, "values": [1, 1.5, 2, 2.5, 3, 3.5, 4, 4.5, 5, 5.5, 6], "format": "~g", "labelExpr": "datum.value % 1 == 0 ? datum.label : ''", "tickSize": -3, "tickColor": "#888", "domain": false, "labelFontSize": 9, "labelPadding": 5, "labelColor": "#444", "title": "Slope (2k/εl or k/εl) / 10⁶", "titleFontSize": 10.5, "titlePadding": 5}}}},
            {"data": {"values": [{}]}, "mark": {"type": "point", "opacity": 0},
             "encoding": {
               "x": {"datum": 0, "type": "quantitative", "scale": {"domain": [0, 17.5], "range": [194, 394], "nice": false, "zero": false}, "axis": {"orient": "top", "offset": -27, "values": [2.5, 5, 7.5, 10, 12.5, 15], "tickSize": -3, "tickColor": "#888", "domain": false, "labels": false, "title": null}},
               "y": {"datum": 1, "type": "quantitative", "scale": {"domain": [1, 6], "range": [187, 27], "nice": false, "zero": false}, "axis": {"orient": "right", "offset": -49, "values": [1.5, 2, 2.5, 3, 3.5, 4, 4.5, 5, 5.5], "tickSize": -3, "tickColor": "#888", "domain": false, "labels": false, "title": null}}}}
          ],
          "resolve": {"axis": {"x": "independent", "y": "independent"}}
        }
      ],
      "resolve": {"scale": {"x": "independent", "y": "independent", "color": "independent", "shape": "independent"}, "axis": {"x": "independent", "y": "independent"}}
    }
  ]
}
